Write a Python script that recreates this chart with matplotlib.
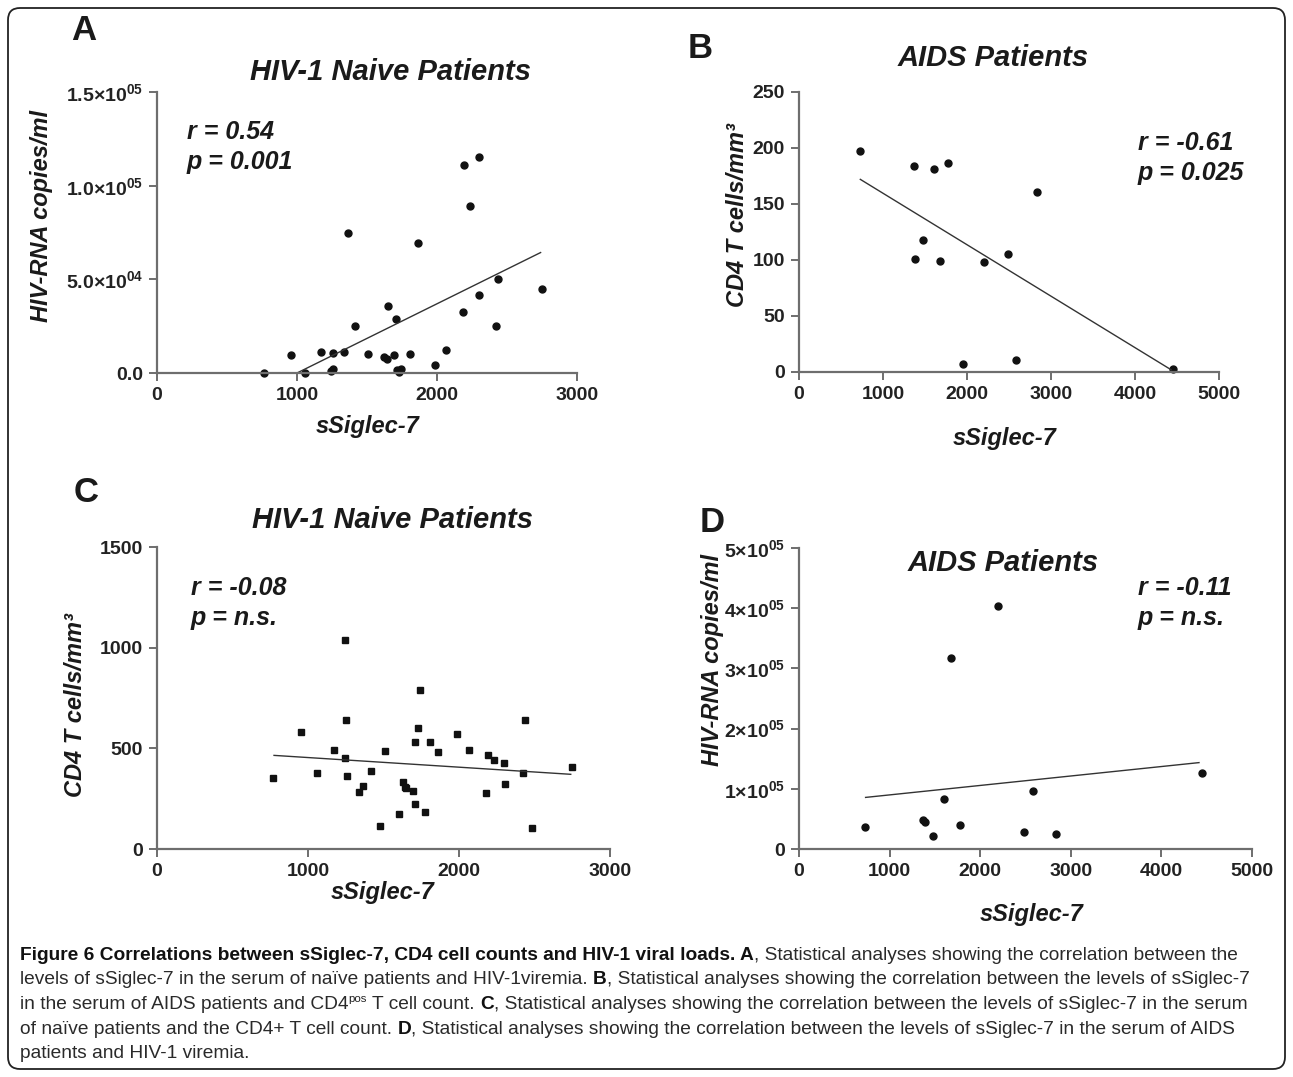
import matplotlib
matplotlib.use("Agg")
import matplotlib.pyplot as plt
from matplotlib.patches import FancyBboxPatch
from matplotlib.transforms import IdentityTransform

plt.rcParams['font.family'] = ['Liberation Sans', 'DejaVu Sans']
plt.rcParams['mathtext.fontset'] = 'custom'
plt.rcParams['mathtext.rm'] = 'Liberation Sans'
plt.rcParams['mathtext.bf'] = 'Liberation Sans:bold'
plt.rcParams['mathtext.it'] = 'Liberation Sans:italic'

W, H = 1293, 1077

# Panel A: HIV-1 naive, sSiglec-7 vs HIV-RNA
a_x = [767, 955, 1060, 1171, 1240, 1255, 1255, 1338, 1364, 1417, 1510, 1624, 1645, 1650,
       1695, 1707, 1712, 1740, 1726, 1810, 1862, 1986, 2067, 2183, 2190, 2233, 2300, 2302,
       2419, 2438, 2748]
a_y = [0, 9700, 0, 11300, 1200, 2400, 10900, 11300, 74700, 25100, 10000, 8400, 7300, 35500,
       9500, 29000, 1600, 2000, 500, 10200, 69200, 4100, 12200, 32800, 110900, 89200, 115400,
       41900, 24900, 50000, 44800]
a_fit_x = [1000, 2740]
a_fit_y = [0, 64300]

# Panel B: AIDS, sSiglec-7 vs CD4
b_x = [726, 1369, 1603, 1778, 2830, 1473, 1386, 1675, 2199, 2485, 1949, 2588, 4457]
b_y = [197, 184, 181, 187, 161, 118, 101, 99, 98, 105, 7.5, 10.4, 2.4]
b_fit_x = [730, 4430]
b_fit_y = [172, 2]

# Panel C: HIV-1 naive, sSiglec-7 vs CD4
c_x = [768, 956, 1060, 1172, 1248, 1254, 1248, 1256, 1364, 1338, 1415, 1510, 1475, 1603,
       1627, 1642, 1651, 1695, 1707, 1711, 1726, 1740, 1775, 1808, 1863, 1987, 2069, 2181,
       2192, 2234, 2298, 2303, 2422, 2437, 2483, 2748]
c_y = [354, 582, 378, 490, 1036, 639, 450, 364, 315, 284, 386, 487, 115, 176,
       333, 310, 302, 289, 223, 533, 602, 789, 183, 530, 482, 572, 492, 279,
       468, 442, 429, 323, 376, 639, 104, 407]
c_fit_x = [775, 2740]
c_fit_y = [465, 371]

# Panel D: AIDS, sSiglec-7 vs HIV-RNA
d_x = [729, 1367, 1389, 1474, 1599, 1676, 1772, 2199, 2480, 2586, 2833, 4453]
d_y = [35900, 48700, 44200, 21600, 83000, 316600, 40400, 403000, 28700, 96300, 24300, 125600]
d_fit_x = [735, 4415]
d_fit_y = [85700, 143500]

a_yticks = [0, 5e4, 1e5, 1.5e5]
a_ylabels = ['0.0', r'$\mathbf{5.0{\times}10^{04}}$', r'$\mathbf{1.0{\times}10^{05}}$',
             r'$\mathbf{1.5{\times}10^{05}}$']
b_yticks = [0, 50, 100, 150, 200, 250]
c_yticks = [0, 500, 1000, 1500]
d_yticks = [0, 1e5, 2e5, 3e5, 4e5, 5e5]
d_ylabels = ['0'] + [r'$\mathbf{%d{\times}10^{05}}$' % i for i in range(1, 6)]
x3000 = [0, 1000, 2000, 3000]
x5000 = [0, 1000, 2000, 3000, 4000, 5000]

fig = plt.figure(figsize=(W / 100, H / 100), dpi=100)

frame = FancyBboxPatch((8, 8), W - 16, H - 16, boxstyle="round,pad=0,rounding_size=12",
                       transform=IdentityTransform(), fill=False, ec='#222222', lw=1.3)
fig.patches.append(frame)

AX_COL = '#6e6e6e'


def panel(l, t, r, b, xticks, yticks, ylabels=None):
    ax = fig.add_axes([l / W, 1 - b / H, (r - l) / W, (b - t) / H])
    ax.set_xlim(xticks[0], xticks[-1])
    ax.set_ylim(yticks[0], yticks[-1])
    for s in ['top', 'right']:
        ax.spines[s].set_visible(False)
    for s in ['left', 'bottom']:
        ax.spines[s].set_color(AX_COL)
        ax.spines[s].set_linewidth(1.6)
    ax.tick_params(direction='out', length=6, width=1.4, color=AX_COL,
                   labelsize=14, labelcolor='#222222', pad=4)
    ax.set_xticks(xticks)
    ax.set_xticklabels([str(v) for v in xticks], fontweight='bold')
    ax.set_yticks(yticks)
    if ylabels is None:
        ylabels = [str(v) for v in yticks]
    ax.set_yticklabels(ylabels, fontweight='bold')
    return ax


def txt(x, y, s, size, **kw):
    fig.text(x / W, 1 - y / H, s, fontsize=size, color='#1a1a1a', **kw)


BI = dict(fontweight='bold', fontstyle='italic')

# A
ax = panel(157, 92, 577, 373, x3000, a_yticks, a_ylabels)
ax.plot(a_x, a_y, 'o', ms=5, color='#111111', clip_on=False)
ax.plot(a_fit_x, a_fit_y, '-', color='#333333', lw=1)
# B
ax = panel(799, 92, 1219, 372, x5000, b_yticks)
ax.plot(b_x, b_y, 'o', ms=5, color='#111111', clip_on=False)
ax.plot(b_fit_x, b_fit_y, '-', color='#333333', lw=1)
# C
ax = panel(157, 547, 610, 849, x3000, c_yticks)
ax.plot(c_x, c_y, 's', ms=5, color='#111111', clip_on=False)
ax.plot(c_fit_x, c_fit_y, '-', color='#333333', lw=1)
# D
ax = panel(799, 548, 1252, 849, x5000, d_yticks, d_ylabels)
ax.plot(d_x, d_y, 'o', ms=5, color='#111111', clip_on=False)
ax.plot(d_fit_x, d_fit_y, '-', color='#333333', lw=1)

# panel letters
for letter, x, y in [('A', 84, 30), ('B', 700, 49), ('C', 86, 492), ('D', 712, 522)]:
    txt(x, y, letter, 25, fontweight='bold', ha='center', va='center')

# titles
txt(391, 72, 'HIV-1 Naive Patients', 21, ha='center', va='center', **BI)
txt(993, 58, 'AIDS Patients', 21, ha='center', va='center', **BI)
txt(393, 520, 'HIV-1 Naive Patients', 21, ha='center', va='center', **BI)
txt(1003, 563, 'AIDS Patients', 21, ha='center', va='center', **BI)

# axis labels
txt(42, 216, 'HIV-RNA copies/ml', 17, rotation=90, ha='center', va='center', **BI)
txt(738, 215, 'CD4 T cells/mm\u00b3', 17, rotation=90, ha='center', va='center', **BI)
txt(76, 705, 'CD4 T cells/mm\u00b3', 17, rotation=90, ha='center', va='center', **BI)
txt(713, 660, 'HIV-RNA copies/ml', 17, rotation=90, ha='center', va='center', **BI)
txt(368, 427, 'sSiglec-7', 17, ha='center', va='center', **BI)
txt(1005, 438, 'sSiglec-7', 17, ha='center', va='center', **BI)
txt(383, 893, 'sSiglec-7', 17, ha='center', va='center', **BI)
txt(1032, 914, 'sSiglec-7', 17, ha='center', va='center', **BI)

# correlation stats
for x, y, r, p in [(187, 132, 'r = 0.54', 'p = 0.001'), (1138, 143, 'r = -0.61', 'p = 0.025'),
                   (191, 588, 'r = -0.08', 'p = n.s.'), (1138, 588, 'r = -0.11', 'p = n.s.')]:
    txt(x, y, r, 18, ha='left', va='center', **BI)
    txt(x, y + 30, p, 18, ha='left', va='center', **BI)

# caption
renderer = fig.canvas.get_renderer()
CAP = 13.8
lines = [
    [('Figure 6 Correlations between sSiglec-7, CD4 cell counts and HIV-1 viral loads. A', 'b'),
     (', Statistical analyses showing the correlation between the', 'n')],
    [('levels of sSiglec-7 in the serum of na\u00efve patients and HIV-1viremia. ', 'n'), ('B', 'b'),
     (', Statistical analyses showing the correlation between the levels of sSiglec-7', 'n')],
    [('in the serum of AIDS patients and CD4', 'n'), ('pos', 's'), (' T cell count. ', 'n'), ('C', 'b'),
     (', Statistical analyses showing the correlation between the levels of sSiglec-7 in the serum', 'n')],
    [('of na\u00efve patients and the CD4+ T cell count. ', 'n'), ('D', 'b'),
     (', Statistical analyses showing the correlation between the levels of sSiglec-7 in the serum of AIDS', 'n')],
    [('patients and HIV-1 viremia.', 'n')],
]
y0 = 960
for i, runs in enumerate(lines):
    x = 20
    y = y0 + i * 24.5
    for s, kind in runs:
        if kind == 's':
            t = fig.text(x / W, 1 - (y - 7) / H, s, fontsize=CAP * 0.6, color='#222222', va='baseline')
        else:
            t = fig.text(x / W, 1 - y / H, s, fontsize=CAP, color='#111111' if kind == 'b' else '#2a2a2a',
                         fontweight='bold' if kind == 'b' else 'normal', va='baseline')
        x += t.get_window_extent(renderer).width

fig.savefig('out.png', dpi=100)
